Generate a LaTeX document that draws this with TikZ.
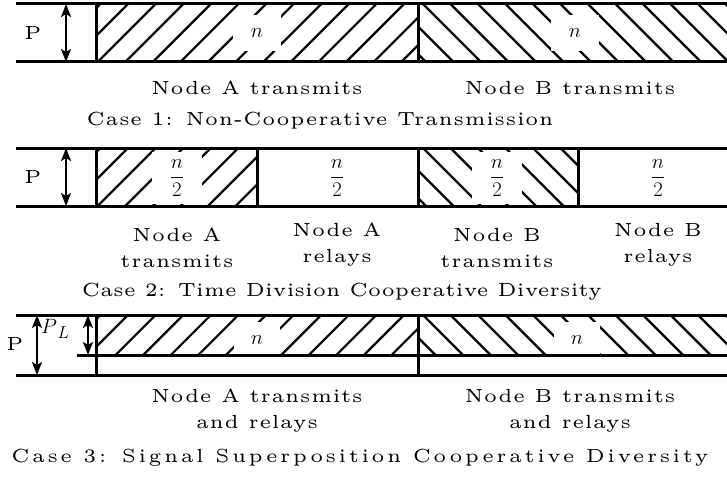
\documentclass[tikz,border=0pt]{standalone}
\usepackage{fontspec}
\setmainfont{lmroman5-regular.otf}
\usetikzlibrary{arrows.meta}

\begin{document}
\begin{tikzpicture}[x=1pt, y=-1pt,
  bandline/.style={line width=3pt},
  hatchline/.style={line width=2.2pt},
  powarrow/.style={line width=2pt,
    {Stealth[length=13pt,width=10pt,inset=3pt]}-{Stealth[length=13pt,width=10pt,inset=3pt]}},
  txt/.style={align=center, inner sep=0pt,
    font=\fontsize{19}{26}\selectfont\addfontfeatures{LetterSpace=3.7}},
  mlbl/.style={fill=white, inner sep=0pt, font=\fontsize{20}{24}\selectfont},
]
\useasboundingbox (0,0) rectangle (727,476);

% ---------- hatching: A slots "/" , B slots "\" ----------
\newcommand{\hatchA}[4]{% x1,y1,x2,y2
  \begin{scope}
    \clip (#1,#2) rectangle (#3,#4);
    \foreach \k in {-1,...,14}
      \draw[hatchline] ({100.4+27.6*\k+12},#2-12) -- ++(-90,90);
  \end{scope}}
\newcommand{\hatchB}[4]{%
  \begin{scope}
    \clip (#1,#2) rectangle (#3,#4);
    \foreach \k in {-3,...,12}
      \draw[hatchline] ({423+27.5*\k-12},#2-12) -- ++(90,90);
  \end{scope}}

\hatchA{96}{4}{418}{62}
\hatchB{418}{4}{740}{62}
\hatchA{96}{148}{257}{206}
\hatchB{418}{148}{578}{206}
\hatchA{96}{315}{418}{355}
\hatchB{418}{315}{740}{355}

% ---------- slot labels ----------
\node[mlbl, minimum width=48pt, minimum height=36pt] (n1a) at (257,33) {$n$};
\node[mlbl, minimum width=48pt, minimum height=36pt] (n1b) at (575,33) {$n$};

\node[mlbl, minimum width=50pt, minimum height=52pt] (n2a) at (177,178) {$\displaystyle\frac{n}{2}$};
\node[mlbl, minimum width=50pt, minimum height=52pt] (n2b) at (337,178) {$\displaystyle\frac{n}{2}$};
\node[mlbl, minimum width=50pt, minimum height=52pt] (n2c) at (497,178) {$\displaystyle\frac{n}{2}$};
\node[mlbl, minimum width=50pt, minimum height=52pt] (n2d) at (658,178) {$\displaystyle\frac{n}{2}$};

\node[mlbl, minimum width=46pt, minimum height=36pt] (n3a) at (257,340) {$n$};
\node[mlbl, minimum width=46pt, minimum height=36pt] (n3b) at (577,340) {$n$};

% ---------- case 1 frame ----------
\draw[bandline] (16,4) -- (727,4);
\draw[bandline] (16,62) -- (727,62);
\draw[bandline] (96,4) -- (96,62);
\draw[bandline] (418,4) -- (418,62);

% ---------- case 2 frame ----------
\draw[bandline] (16,148) -- (727,148);
\draw[bandline] (16,206) -- (727,206);
\foreach \x in {96,257,418,578}
  \draw[bandline] (\x,148) -- (\x,206);

% ---------- case 3 frame ----------
\draw[bandline] (16,315) -- (727,315);
\draw[bandline] (77,355) -- (727,355);
\draw[bandline] (16,375) -- (727,375);
\draw[bandline] (96,315) -- (96,375);
\draw[bandline] (418,315) -- (418,375);

% ---------- power arrows ----------
\coordinate (p1t) at (66,4);   \coordinate (p1b) at (66,62);
\coordinate (p2t) at (66,148); \coordinate (p2b) at (66,206);
\coordinate (p3t) at (37,315); \coordinate (p3b) at (37,375);
\coordinate (l3t) at (88,315); \coordinate (l3b) at (88,355);
\draw[powarrow] (p1t) -- (p1b);
\draw[powarrow] (p2t) -- (p2b);
\draw[powarrow] (p3t) -- (p3b);
\draw[powarrow] (l3t) -- (l3b);

\node[txt] (P1) at (33,33) {P};
\node[txt] (P2) at (33,177) {P};
\node[txt] (P3) at (15,344) {P};
\node[inner sep=0pt, anchor=base west, font=\fontsize{22}{24}\selectfont]
  (PL) at (41,333) {$P$\kern0.5pt\raisebox{-5pt}{\fontsize{17}{18}\selectfont$L$}};

% ---------- descriptions ----------
\node[txt] (d1a) at (257,88) {Node A transmits};
\node[txt] (d1b) at (570,88) {Node B transmits};
\node[txt] (c1) at (320,121) {Case 1: Non-Cooperative Transmission};

\node[txt] (d2a) at (177,248) {Node A\\transmits};
\node[txt] (d2b) at (337,245) {Node A\\relays};
\node[txt] (d2c) at (497,248) {Node B\\transmits};
\node[txt] (d2d) at (658,245) {Node B\\relays};
\node[txt, font=\fontsize{19}{26}\selectfont\addfontfeatures{LetterSpace=1}]
  (c2) at (342,292) {Case 2: Time Division Cooperative Diversity};

\node[txt] (d3a) at (257,411) {Node A transmits\\and relays};
\node[txt] (d3b) at (570,411) {Node B transmits\\and relays};
\node[txt, font=\fontsize{19}{26}\selectfont\addfontfeatures{LetterSpace=13}]
  (c3) at (360,458) {Case 3: Signal Superposition Cooperative Diversity};
\end{tikzpicture}
\end{document}
